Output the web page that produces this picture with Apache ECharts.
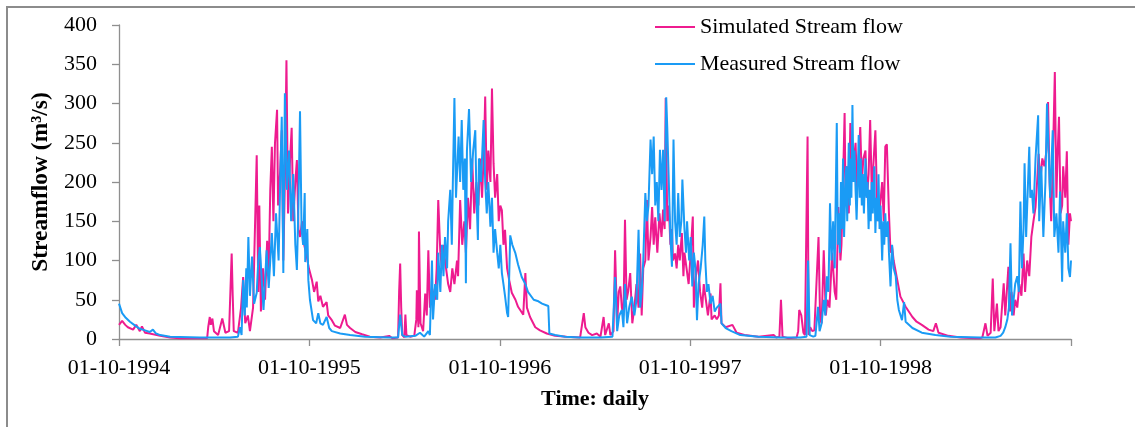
<!DOCTYPE html>
<html><head><meta charset="utf-8">
<script src="https://cdn.jsdelivr.net/npm/echarts@6/dist/echarts.min.js"></script>
<style>html,body{margin:0;padding:0;background:#fff}#c{width:1135px;height:427px}</style>
</head><body><div id="c"></div>
<script>
// x = days since 01-10-1994, y = streamflow (m3/s)
const tickLabels = ['01-10-1994','01-10-1995','01-10-1996','01-10-1997','01-10-1998',''];
const seriesNames = ['Simulated Stream flow','Measured Stream flow'];

const simulatedFlow = [
[0,18],[6,23],[12,18],[17,15],[27,12],[33,18],[40,10],[44,16],[50,8],[59,7],[79,4],[98,2],[117,1],[169,1],[171,15],[174,28],[176,18],[179,26],[182,10],[190,5],[198,26],[201,25],[204,8],[211,10],[216,109],[218,55],[220,10],[228,8],[234,40],[238,79],[242,20],[247,30],[251,10],[257,40],[264,234],[267,60],[269,170],[272,35],[276,90],[280,50],[284,125],[287,85],[290,190],[293,245],[296,150],[299,249],[303,292],[305,170],[309,215],[312,266],[315,100],[318,200],[321,355],[324,160],[328,230],[331,269],[334,150],[338,200],[341,228],[344,140],[347,130],[351,150],[355,120],[360,105],[364,90],[370,75],[374,60],[379,73],[382,48],[386,55],[391,41],[398,47],[401,30],[408,24],[414,17],[424,14],[433,31],[437,18],[443,14],[453,9],[466,6],[481,3],[501,2],[518,4],[524,1],
[535,2],[537,60],[539,96],[541,40],[543,5],[547,2],[549,31],[551,5],[558,3],[566,4],[570,25],[571,62],[574,15],[575,137],[578,20],[583,10],[587,58],[590,30],[593,113],[596,40],[600,65],[606,50],[609,90],[612,177],[616,110],[619,90],[622,120],[625,100],[631,70],[635,60],[639,90],[643,70],[648,100],[650,80],[654,177],[658,120],[662,150],[665,110],[669,180],[673,140],[677,230],[681,160],[685,200],[689,170],[692,230],[696,180],[700,250],[702,309],[705,190],[708,240],[712,200],[715,319],[718,224],[721,180],[725,210],[728,150],[731,170],[734,164],[737,120],[740,139],[744,90],[748,75],[753,59],[760,50],[765,41],[771,35],[775,31],[779,84],[782,40],[788,28],[798,15],[807,11],[820,7],[836,4],[858,3],[884,2],
[886,2],[891,33],[894,15],[900,8],[907,5],[916,7],[923,3],[929,28],[932,5],[939,20],[942,5],[948,10],[951,113],[955,20],[958,60],[961,67],[964,40],[967,30],[970,152],[973,50],[976,60],[980,84],[984,20],[988,40],[992,70],[996,40],[999,109],[1002,30],[1005,90],[1009,100],[1012,177],[1015,100],[1019,130],[1022,168],[1025,120],[1028,155],[1032,110],[1036,160],[1040,130],[1043,165],[1046,140],[1048,307],[1051,150],[1054,170],[1057,120],[1060,140],[1062,100],[1066,109],[1069,90],[1072,120],[1075,100],[1079,135],[1082,80],[1084,110],[1088,90],[1092,70],[1095,100],[1100,156],[1102,40],[1106,80],[1110,100],[1114,60],[1118,40],[1121,70],[1125,50],[1129,30],[1134,58],[1136,25],[1142,30],[1146,25],[1150,30],[1153,71],[1155,20],[1163,15],[1176,18],[1184,8],[1199,5],[1226,3],
[1255,5],[1260,2],[1266,3],[1269,50],[1272,3],[1283,1],[1299,2],[1302,10],[1304,37],[1308,30],[1312,8],[1315,5],[1320,258],[1322,5],[1325,15],[1329,10],[1333,11],[1341,130],[1344,25],[1347,20],[1351,113],[1355,30],[1358,50],[1362,40],[1367,110],[1372,60],[1375,50],[1379,168],[1383,100],[1385,120],[1388,200],[1391,288],[1393,170],[1396,220],[1399,160],[1402,275],[1405,200],[1408,220],[1412,250],[1415,190],[1418,230],[1421,270],[1424,200],[1427,230],[1431,240],[1434,180],[1437,210],[1440,279],[1443,190],[1446,220],[1450,266],[1453,180],[1456,150],[1459,170],[1463,200],[1466,150],[1469,245],[1472,248],[1476,160],[1479,110],[1482,118],[1485,100],[1492,75],[1498,54],[1508,41],[1521,28],[1529,22],[1539,18],[1552,12],[1561,10],[1566,20],[1571,8],[1590,4],[1613,2],[1642,1],
[1651,1],[1655,2],[1661,20],[1665,4],[1671,8],[1675,77],[1678,10],[1683,45],[1686,10],[1690,15],[1696,71],[1699,30],[1705,92],[1708,35],[1711,60],[1715,30],[1718,50],[1722,40],[1726,70],[1730,55],[1734,109],[1737,60],[1741,100],[1745,80],[1749,130],[1753,150],[1757,168],[1760,200],[1763,236],[1766,200],[1770,230],[1774,220],[1778,240],[1781,302],[1784,200],[1787,150],[1790,220],[1794,340],[1797,180],[1799,230],[1802,283],[1805,160],[1808,170],[1810,220],[1814,180],[1817,239],[1820,120],[1823,160],[1825,150]
];

const measuredFlow = [
[0,45],[6,33],[13,27],[21,22],[31,17],[40,13],[50,11],[59,9],[65,12],[71,7],[79,5],[98,3],[155,2],[213,2],[228,3],[232,15],[235,5],[238,75],[241,30],[244,90],[245,40],[248,130],[251,55],[255,105],[259,45],[264,59],[267,100],[270,117],[277,37],[283,113],[287,65],[293,135],[297,80],[301,160],[306,100],[309,200],[312,283],[315,84],[318,313],[322,190],[326,240],[330,150],[334,210],[338,120],[341,88],[344,170],[347,290],[350,140],[353,120],[356,186],[357,98],[361,140],[363,75],[366,50],[372,24],[378,20],[382,33],[386,20],[391,18],[398,28],[403,14],[408,10],[424,7],[443,5],[472,3],[520,2],
[535,2],[539,31],[543,5],[549,3],[568,4],[577,8],[585,3],[593,10],[596,5],[600,100],[602,25],[606,70],[610,50],[612,110],[616,60],[619,120],[622,80],[625,130],[629,90],[631,150],[635,190],[638,120],[640,200],[643,307],[646,180],[651,258],[654,200],[657,279],[660,190],[663,230],[665,71],[667,240],[671,293],[675,200],[679,240],[683,266],[685,190],[688,126],[690,230],[694,200],[699,279],[702,200],[705,160],[708,200],[712,143],[715,180],[718,110],[721,140],[725,110],[728,90],[731,120],[734,84],[737,70],[740,55],[744,33],[746,28],[750,132],[754,120],[760,109],[765,95],[772,79],[779,70],[784,60],[795,50],[804,48],[811,45],[819,43],[823,42],[825,7],[836,5],[855,3],[884,2],
[923,2],[946,3],[951,79],[955,10],[959,30],[964,37],[967,15],[970,70],[974,20],[978,40],[983,54],[988,30],[992,50],[996,139],[999,40],[1002,60],[1005,100],[1009,186],[1012,150],[1015,170],[1019,254],[1022,210],[1025,258],[1028,170],[1031,200],[1034,150],[1037,241],[1040,190],[1043,241],[1046,150],[1049,308],[1051,270],[1054,200],[1057,130],[1060,92],[1063,254],[1066,150],[1069,120],[1072,186],[1075,130],[1078,150],[1080,203],[1084,140],[1087,110],[1089,150],[1093,100],[1096,130],[1099,67],[1102,110],[1105,90],[1108,24],[1111,70],[1115,90],[1119,120],[1122,156],[1124,100],[1127,60],[1130,70],[1134,45],[1138,55],[1142,35],[1146,40],[1153,45],[1155,20],[1163,14],[1174,10],[1191,5],[1226,3],[1268,2],
[1306,2],[1318,3],[1321,100],[1324,5],[1331,3],[1335,4],[1340,41],[1343,10],[1347,20],[1351,50],[1354,30],[1357,80],[1360,60],[1363,173],[1366,100],[1369,150],[1372,90],[1376,275],[1378,120],[1380,160],[1382,110],[1384,200],[1386,140],[1388,230],[1390,130],[1392,180],[1394,220],[1396,150],[1399,250],[1401,170],[1402,230],[1404,180],[1406,298],[1408,200],[1410,240],[1412,190],[1414,152],[1416,200],[1418,260],[1420,180],[1422,230],[1424,170],[1426,210],[1428,160],[1431,230],[1433,180],[1435,200],[1437,140],[1439,190],[1441,150],[1443,200],[1445,160],[1448,220],[1450,135],[1452,180],[1454,150],[1456,210],[1458,140],[1460,170],[1463,100],[1465,150],[1467,120],[1469,160],[1471,130],[1474,150],[1476,110],[1479,67],[1482,120],[1485,90],[1489,80],[1492,50],[1495,37],[1501,24],[1505,47],[1508,22],[1521,14],[1539,8],[1565,5],[1594,3],[1651,2],
[1680,2],[1690,4],[1695,8],[1699,15],[1703,25],[1706,40],[1709,122],[1712,30],[1715,50],[1718,70],[1722,80],[1725,60],[1728,175],[1731,90],[1734,140],[1736,224],[1739,130],[1745,245],[1747,180],[1750,190],[1753,160],[1757,230],[1762,285],[1764,150],[1768,220],[1772,130],[1776,200],[1779,300],[1782,298],[1785,180],[1790,266],[1793,130],[1797,160],[1801,110],[1804,188],[1808,73],[1810,150],[1814,110],[1817,160],[1820,90],[1823,79],[1825,100]
];

const FONT = "'Liberation Serif','Times New Roman',serif";
const AXIS_COLOR = '#8f8f8f';
const chart = echarts.init(document.getElementById('c'), null, {renderer: 'canvas'});
chart.setOption({
  animation: false,
  backgroundColor: '#ffffff',
  graphic: [{
    type: 'rect', silent: true, z: 0,
    shape: {x: 7, y: 7, width: 1200, height: 500},
    style: {fill: 'none', stroke: '#8c8c8c', lineWidth: 2}
  }],
  grid: {left: 119, right: 64, top: 25, bottom: 88, containLabel: false},
  legend: {
    orient: 'vertical', left: 650, top: 11,
    icon: 'rect', itemWidth: 40, itemHeight: 2, itemGap: 15,
    textStyle: {fontSize: 22, fontFamily: FONT, color: '#000', lineHeight: 22},
    data: seriesNames
  },
  xAxis: {
    type: 'value', min: 0, max: 1825, interval: 365,
    axisLine: {show: true, lineStyle: {color: AXIS_COLOR, width: 1.3}},
    axisTick: {show: true, length: 7, lineStyle: {color: AXIS_COLOR, width: 1.3}},
    splitLine: {show: false},
    axisLabel: {
      formatter: v => tickLabels[Math.round(v / 365)] || '',
      fontSize: 22, fontFamily: FONT, color: '#000', margin: 18
    },
    name: 'Time: daily', nameLocation: 'middle', nameGap: 49,
    nameTextStyle: {fontSize: 22, fontWeight: 'bold', fontFamily: FONT, color: '#000'}
  },
  yAxis: {
    type: 'value', min: 0, max: 400, interval: 50,
    axisLine: {show: true, lineStyle: {color: AXIS_COLOR, width: 1.3}},
    axisTick: {show: true, length: 7, lineStyle: {color: AXIS_COLOR, width: 1.3}},
    splitLine: {show: false},
    axisLabel: {fontSize: 22, fontFamily: FONT, color: '#000', margin: 22},
    name: 'Streamflow (m³/s)', nameLocation: 'middle', nameGap: 52, nameRotate: 90,
    nameTextStyle: {fontSize: 23.5, fontWeight: 'bold', fontFamily: FONT, color: '#000'}
  },
  series: [
    {name: seriesNames[0], type: 'line', data: simulatedFlow, symbol: 'none', showSymbol: false,
     color: '#EE1B8F', lineStyle: {width: 2, color: '#EE1B8F'}, z: 2},
    {name: seriesNames[1], type: 'line', data: measuredFlow, symbol: 'none', showSymbol: false,
     color: '#1A9BF5', lineStyle: {width: 2, color: '#1A9BF5'}, z: 3}
  ]
});
</script>
</body></html>
